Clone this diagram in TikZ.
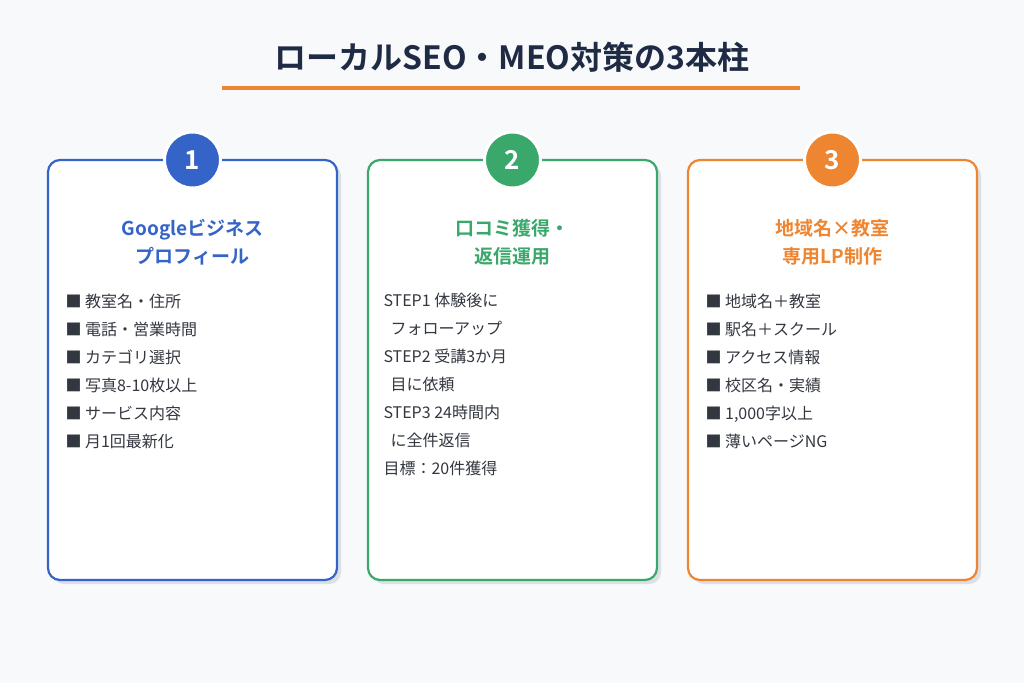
\documentclass[tikz,border=0pt]{standalone}
\usepackage{fontspec}
\setmainfont{Noto Sans CJK JP}
\newfontfamily\jpb{Noto Sans CJK JP Bold}
\definecolor{bg}{HTML}{F8F9FB}
\definecolor{navy}{HTML}{1F2A44}
\definecolor{cblue}{HTML}{3564C8}
\definecolor{cgreen}{HTML}{3AA86B}
\definecolor{corange}{HTML}{EE8530}
\definecolor{txt}{HTML}{333740}
\definecolor{shadow}{HTML}{DCDFE8}
\begin{document}
\begin{tikzpicture}[x=1pt,y=-1pt,
 card/.style={draw=#1,line width=2.2pt,fill=white,rounded corners=12pt},
 num/.style={circle,fill=#1,draw=white,line width=3pt,minimum size=56pt,inner sep=0pt,text=white,font=\jpb\fontsize{26}{26}\selectfont},
 head/.style={text=#1,font=\jpb\fontsize{19}{28}\selectfont,align=center},
 body/.style={anchor=north west,text=txt,font=\fontsize{16}{28}\selectfont,align=left}]
\fill[bg] (0,0) rectangle (1024,683);
\useasboundingbox (0,0) rectangle (1024,683);
\node[text=navy,font=\jpb\fontsize{32}{32}\selectfont] (title) at (512,57) {ローカルSEO・MEO対策の3本柱};
\draw[corange,line width=4pt] (222,88) -- (800,88);
\foreach \x/\c/\n in {48/cblue/1,368/cgreen/2,688/corange/3}{
 \fill[shadow,rounded corners=12pt] (\x+4,164) rectangle (\x+293,584);
 \draw[card=\c] (\x,160) rectangle (\x+289,580);
 \node[num=\c] (n\n) at (\x+144.5,160) {\n};
}
\node[head=cblue] (h1) at (192.5,242) {Googleビジネス\\プロフィール};
\node[head=cgreen] (h2) at (512.5,242) {口コミ獲得・\\返信運用};
\node[head=corange] (h3) at (832.5,242) {地域名×教室\\専用LP制作};
\node[body] (b1) at (62,290) {■ 教室名・住所\\■ 電話・営業時間\\■ カテゴリ選択\\■ 写真8-10枚以上\\■ サービス内容\\■ 月1回最新化};
\node[body] (b2) at (380,290) {STEP1 体験後に\\\ \ フォローアップ\\STEP2 受講3か月\\\ \ 目に依頼\\STEP3 24時間内\\\ \ に全件返信\\目標：20件獲得};
\node[body] (b3) at (702,290) {■ 地域名＋教室\\■ 駅名＋スクール\\■ アクセス情報\\■ 校区名・実績\\■ 1,000字以上\\■ 薄いページNG};
\end{tikzpicture}
\end{document}
